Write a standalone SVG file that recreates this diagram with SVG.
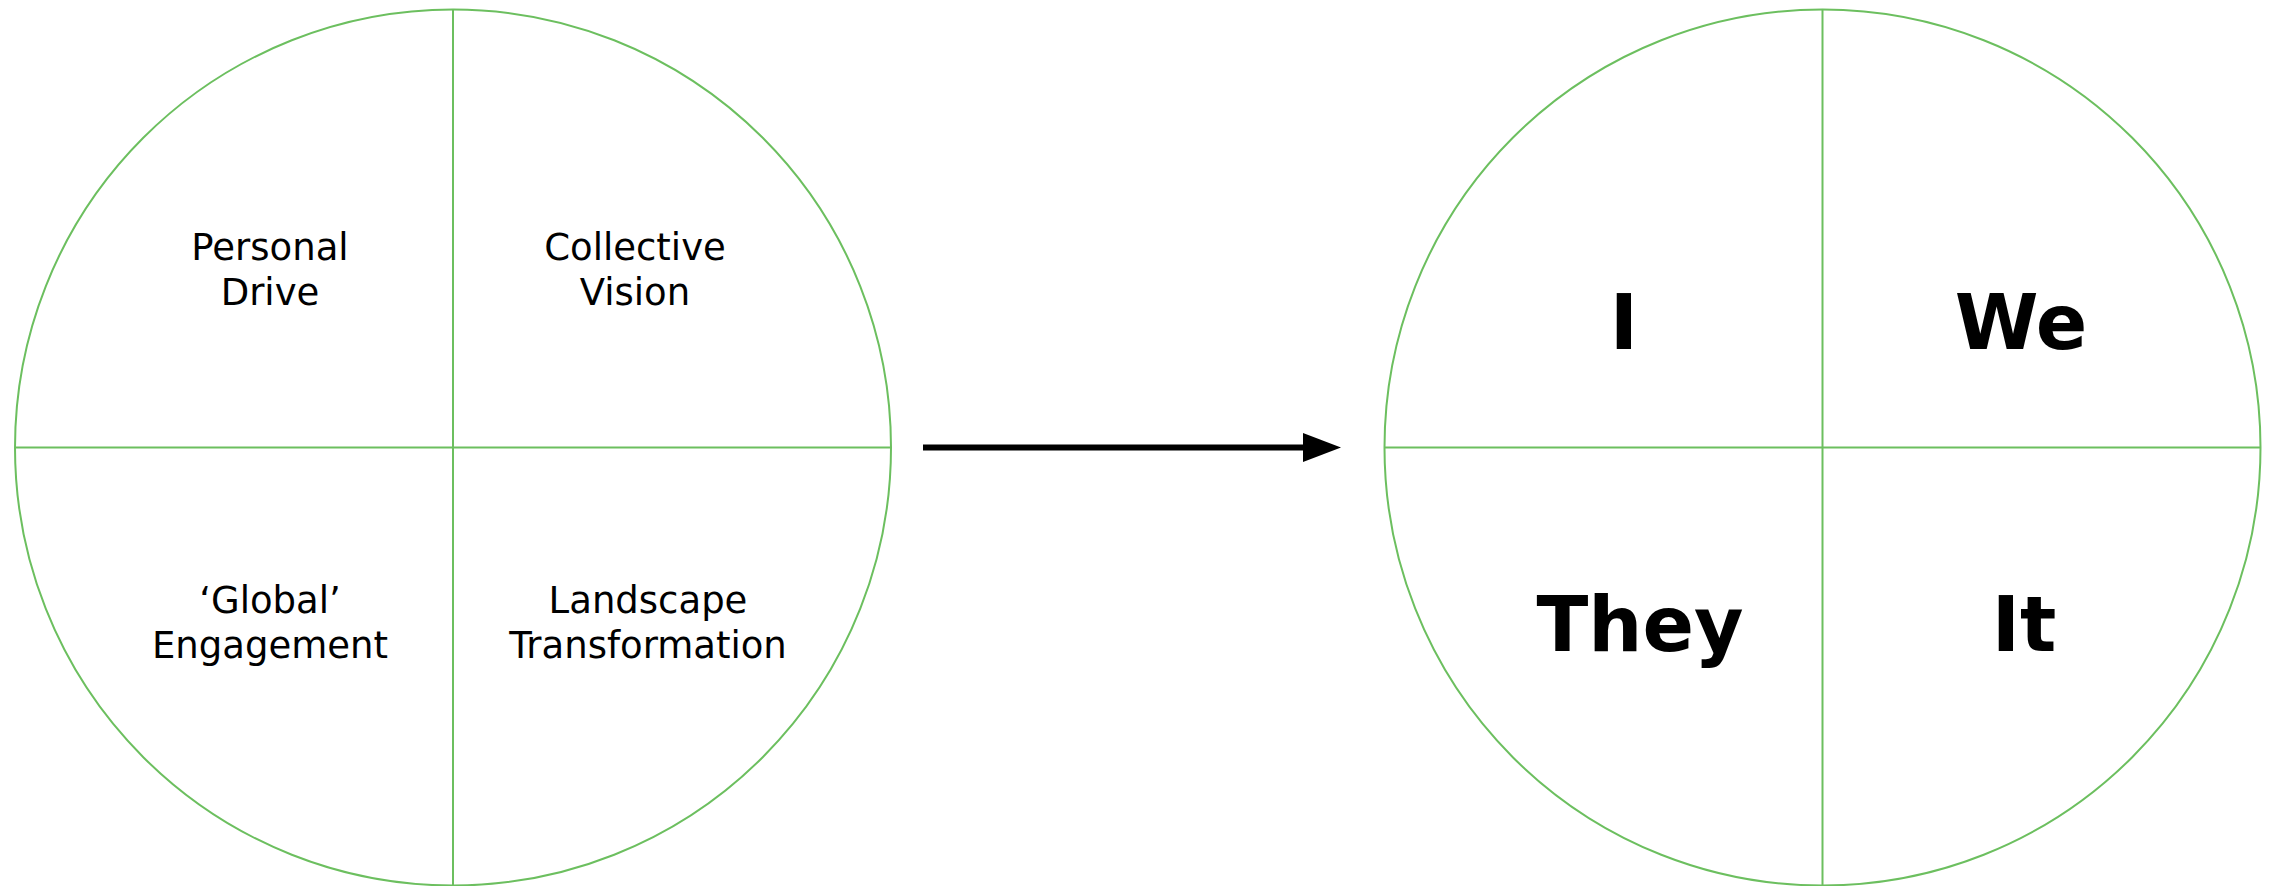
<svg xmlns="http://www.w3.org/2000/svg" width="2277" height="886" viewBox="0 0 2277 886">
<style>
.ring{fill:none;stroke:#6cbf5f;stroke-width:2}
.div{stroke:#6cbf5f;stroke-width:2}
.lbl{font-family:"DejaVu Sans","Liberation Sans",sans-serif;font-size:37px;fill:#000;text-anchor:middle}
.big{font-family:"DejaVu Sans","Liberation Sans",sans-serif;font-size:76px;font-weight:bold;fill:#000;text-anchor:middle}
</style>
<defs>
<marker id="ah" markerWidth="10" markerHeight="10" refX="0" refY="5" orient="auto" markerUnits="userSpaceOnUse" viewBox="0 0 10 10">
<path d="M0,0 L10,5 L0,10 Z" fill="#000"/>
</marker>
</defs>
<rect width="2277" height="886" fill="#fff"/>
<g id="left-circle">
<circle class="ring" cx="453" cy="447.5" r="438"/>
<line class="div" x1="453" y1="9.5" x2="453" y2="885.5"/>
<line class="div" x1="15" y1="447.5" x2="891" y2="447.5"/>
</g>
<g id="personal-drive"><text class="lbl" x="270" y="260">Personal</text><text class="lbl" x="270" y="305">Drive</text></g>
<g id="collective-vision"><text class="lbl" x="635" y="260">Collective</text><text class="lbl" x="635" y="305">Vision</text></g>
<g id="global-engagement"><text class="lbl" x="270" y="613">‘Global’</text><text class="lbl" x="270" y="658">Engagement</text></g>
<g id="landscape-transformation"><text class="lbl" x="648" y="613">Landscape</text><text class="lbl" x="648" y="658">Transformation</text></g>
<g id="right-circle">
<circle class="ring" cx="1822.5" cy="447.5" r="438"/>
<line class="div" x1="1822.5" y1="9.5" x2="1822.5" y2="885.5"/>
<line class="div" x1="1384.5" y1="447.5" x2="2260.5" y2="447.5"/>
</g>
<g id="i"><text class="big" x="1624" y="349">I</text></g>
<g id="we"><text class="big" x="2021" y="349">We</text></g>
<g id="they"><text class="big" x="1640" y="651">They</text></g>
<g id="it"><text class="big" x="2024" y="651">It</text></g>
<g id="connectors">
<path d="M923,447.5 H1304" stroke="#000" stroke-width="6" fill="none"/>
<path d="M1303,433 L1341,447.5 L1303,462 Z" fill="#000"/>
</g>
</svg>
